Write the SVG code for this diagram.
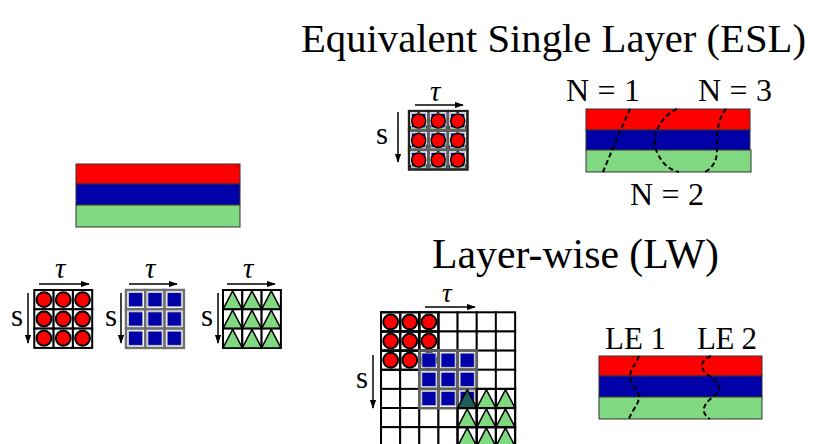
<svg xmlns="http://www.w3.org/2000/svg" xmlns:xlink="http://www.w3.org/1999/xlink" width="815" height="444" viewBox="0 0 815 444">
<style>
text{font-family:"Liberation Serif","DejaVu Serif",serif;fill:#000}
.title{font-size:42px}
.lab{font-size:32px}
.le{font-size:31px}
.sym{font-size:31px}
.tau{font-size:29px;font-style:italic}
.ax{stroke:#000;stroke-width:1.5;fill:none;marker-end:url(#ah)}
.lay{stroke:#333;stroke-width:1}
.dash{fill:none;stroke:#000;stroke-width:2;stroke-dasharray:5,3}
</style>
<defs>
<marker id="ah" viewBox="0 0 10 7" refX="9" refY="3.5" markerWidth="6" markerHeight="4.2" orient="auto"><path d="M0,0L10,3.5L0,7z" fill="#000"/></marker>
<g id="cE"><rect width="19.3" height="19.3" fill="#fff" stroke="#000" stroke-width="2"/></g>
<g id="cC"><rect width="19.3" height="19.3" fill="#fff" stroke="#000" stroke-width="2"/><circle cx="9.65" cy="9.65" r="7.4" fill="#f00" stroke="#000" stroke-width="2"/></g>
<g id="cCo"><rect width="19.3" height="19.3" fill="none" stroke="#000" stroke-width="2"/><circle cx="9.65" cy="9.65" r="7.4" fill="#f00" stroke="#000" stroke-width="2"/></g>
<g id="cS"><rect width="19.3" height="19.3" fill="#fff" stroke="#707070" stroke-width="2.5"/><rect x="2.5" y="2.5" width="14.3" height="14.3" fill="#0000a8" stroke="#c8c8c8" stroke-width="1"/></g>
<g id="cSo"><rect width="19.3" height="19.3" fill="none" stroke="#606060" stroke-width="2.5"/><rect x="2.5" y="2.5" width="14.3" height="14.3" fill="#0000a8" stroke="#c8c8c8" stroke-width="1"/></g>
<g id="cT"><rect width="19.3" height="19.3" fill="#fff" stroke="#000" stroke-width="2"/><path d="M9.65,0.8L19.3,19.3L0,19.3z" fill="#80d880" stroke="#000" stroke-width="1.5" stroke-linejoin="round"/></g>
<g id="cTo"><path d="M9.65,0.8L19.3,19.3L0,19.3z" fill="#80d880" stroke="#000" stroke-width="1.5" stroke-linejoin="round"/><rect width="19.3" height="19.3" fill="none" stroke="#000" stroke-width="2"/></g>
</defs>

<g id="laminate-left">
<rect class="lay" x="76" y="164" width="164" height="20" fill="#ff0000"/>
<rect class="lay" x="76" y="184" width="164" height="21" fill="#0000a8"/>
<rect class="lay" x="76" y="205" width="164" height="22" fill="#80d880"/>
</g>

<g id="grid-circles">
<use href="#cC" x="34.3" y="290"/><use href="#cC" x="53.6" y="290"/><use href="#cC" x="72.9" y="290"/>
<use href="#cC" x="34.3" y="309.3"/><use href="#cC" x="53.6" y="309.3"/><use href="#cC" x="72.9" y="309.3"/>
<use href="#cC" x="34.3" y="328.6"/><use href="#cC" x="53.6" y="328.6"/><use href="#cC" x="72.9" y="328.6"/>
<text class="tau" x="55" y="278">τ</text>
<text class="sym" x="11" y="326">s</text>
</g>

<g id="grid-squares">
<use href="#cS" x="126" y="290"/><use href="#cS" x="145.3" y="290"/><use href="#cS" x="164.6" y="290"/>
<use href="#cS" x="126" y="309.3"/><use href="#cS" x="145.3" y="309.3"/><use href="#cS" x="164.6" y="309.3"/>
<use href="#cS" x="126" y="328.6"/><use href="#cS" x="145.3" y="328.6"/><use href="#cS" x="164.6" y="328.6"/>
<text class="tau" x="145" y="278">τ</text>
<text class="sym" x="105" y="326">s</text>
</g>

<g id="grid-triangles">
<use href="#cT" x="223" y="290"/><use href="#cT" x="242.3" y="290"/><use href="#cT" x="261.6" y="290"/>
<use href="#cT" x="223" y="309.3"/><use href="#cT" x="242.3" y="309.3"/><use href="#cT" x="261.6" y="309.3"/>
<use href="#cT" x="223" y="328.6"/><use href="#cT" x="242.3" y="328.6"/><use href="#cT" x="261.6" y="328.6"/>
<text class="tau" x="243" y="278">τ</text>
<text class="sym" x="201" y="326">s</text>
</g>

<g id="esl-title"><text class="title" x="301" y="52" style="font-size:40.5px" textLength="505" lengthAdjust="spacingAndGlyphs">Equivalent Single Layer (ESL)</text></g>

<g id="esl-grid">
<use href="#cT" x="409" y="111"/><use href="#cT" x="428.5" y="111"/><use href="#cT" x="448" y="111"/>
<use href="#cT" x="409" y="130.5"/><use href="#cT" x="428.5" y="130.5"/><use href="#cT" x="448" y="130.5"/>
<use href="#cT" x="409" y="150"/><use href="#cT" x="428.5" y="150"/><use href="#cT" x="448" y="150"/>
<use href="#cSo" x="409" y="111"/><use href="#cSo" x="428.5" y="111"/><use href="#cSo" x="448" y="111"/>
<use href="#cSo" x="409" y="130.5"/><use href="#cSo" x="428.5" y="130.5"/><use href="#cSo" x="448" y="130.5"/>
<use href="#cSo" x="409" y="150"/><use href="#cSo" x="428.5" y="150"/><use href="#cSo" x="448" y="150"/>
<rect x="409" y="111" width="58.5" height="58.5" fill="none" stroke="#222" stroke-width="2"/>
<g stroke="#000" fill="#f00" stroke-width="1.5"><circle cx="418.7" cy="121" r="7"/><circle cx="438.2" cy="121" r="7"/><circle cx="457.7" cy="121" r="7"/>
<circle cx="418.7" cy="140.5" r="7"/><circle cx="438.2" cy="140.5" r="7"/><circle cx="457.7" cy="140.5" r="7"/>
<circle cx="418.7" cy="160" r="7"/><circle cx="438.2" cy="160" r="7"/><circle cx="457.7" cy="160" r="7"/></g>
<text class="tau" x="430" y="101">τ</text>
<text class="sym" x="376" y="144">s</text>
</g>

<g id="esl-laminate">
<rect class="lay" x="586" y="109" width="164" height="21" fill="#ff0000"/>
<rect class="lay" x="586" y="130" width="164" height="20" fill="#0000a8"/>
<rect class="lay" x="586" y="150" width="165" height="22" fill="#80d880"/>
<path class="dash" d="M630,109Q617,138 603,172"/>
<path class="dash" d="M677,109C658,118 650,140 657,152C662,164 670,170 679,172"/>
<path class="dash" d="M726,109C716,120 717,140 717,150C717,162 712,168 705,172"/>
<text class="lab" x="566" y="101" textLength="74" lengthAdjust="spacing">N = 1</text>
<text class="lab" x="698" y="101" textLength="74" lengthAdjust="spacing">N = 3</text>
<text class="lab" x="630" y="205" textLength="74" lengthAdjust="spacing">N = 2</text>
</g>

<g id="lw-title"><text class="title" x="432" y="268" textLength="287" lengthAdjust="spacingAndGlyphs">Layer-wise (LW)</text></g>

<g id="lw-grid">
<g id="lw-base">
<use href="#cE" x="381" y="312.3"/><use href="#cE" x="400.14" y="312.3"/><use href="#cE" x="419.28" y="312.3"/><use href="#cE" x="438.42" y="312.3"/><use href="#cE" x="457.56" y="312.3"/><use href="#cE" x="476.7" y="312.3"/><use href="#cE" x="495.84" y="312.3"/>
<use href="#cE" x="381" y="331.44"/><use href="#cE" x="400.14" y="331.44"/><use href="#cE" x="419.28" y="331.44"/><use href="#cE" x="438.42" y="331.44"/><use href="#cE" x="457.56" y="331.44"/><use href="#cE" x="476.7" y="331.44"/><use href="#cE" x="495.84" y="331.44"/>
<use href="#cE" x="381" y="350.58"/><use href="#cE" x="400.14" y="350.58"/><use href="#cE" x="419.28" y="350.58"/><use href="#cE" x="438.42" y="350.58"/><use href="#cE" x="457.56" y="350.58"/><use href="#cE" x="476.7" y="350.58"/><use href="#cE" x="495.84" y="350.58"/>
<use href="#cE" x="381" y="369.72"/><use href="#cE" x="400.14" y="369.72"/><use href="#cE" x="419.28" y="369.72"/><use href="#cE" x="438.42" y="369.72"/><use href="#cE" x="457.56" y="369.72"/><use href="#cE" x="476.7" y="369.72"/><use href="#cE" x="495.84" y="369.72"/>
<use href="#cE" x="381" y="388.86"/><use href="#cE" x="400.14" y="388.86"/><use href="#cE" x="419.28" y="388.86"/><use href="#cE" x="438.42" y="388.86"/><use href="#cE" x="457.56" y="388.86"/><use href="#cE" x="476.7" y="388.86"/><use href="#cE" x="495.84" y="388.86"/>
<use href="#cE" x="381" y="408"/><use href="#cE" x="400.14" y="408"/><use href="#cE" x="419.28" y="408"/><use href="#cE" x="438.42" y="408"/><use href="#cE" x="457.56" y="408"/><use href="#cE" x="476.7" y="408"/><use href="#cE" x="495.84" y="408"/>
<use href="#cE" x="381" y="427.14"/><use href="#cE" x="400.14" y="427.14"/><use href="#cE" x="419.28" y="427.14"/><use href="#cE" x="438.42" y="427.14"/><use href="#cE" x="457.56" y="427.14"/><use href="#cE" x="476.7" y="427.14"/><use href="#cE" x="495.84" y="427.14"/>
</g>
<use href="#cCo" x="381" y="312.3"/><use href="#cCo" x="400.14" y="312.3"/><use href="#cCo" x="419.28" y="312.3"/>
<use href="#cCo" x="381" y="331.44"/><use href="#cCo" x="400.14" y="331.44"/><use href="#cCo" x="419.28" y="331.44"/>
<use href="#cCo" x="381" y="350.58"/><use href="#cCo" x="400.14" y="350.58"/><use href="#cCo" x="419.28" y="350.58"/>
<use href="#cSo" x="419.28" y="350.58"/><use href="#cSo" x="438.42" y="350.58"/><use href="#cSo" x="457.56" y="350.58"/>
<use href="#cSo" x="419.28" y="369.72"/><use href="#cSo" x="438.42" y="369.72"/><use href="#cSo" x="457.56" y="369.72"/>
<use href="#cSo" x="419.28" y="388.86"/><use href="#cSo" x="438.42" y="388.86"/><use href="#cSo" x="457.56" y="388.86"/>
<path d="M467.21,389.7L476.86,408.16L457.56,408.16z" fill="#1d5e5a" stroke="#000" stroke-width="1.5" stroke-linejoin="round"/>
<use href="#cTo" x="476.7" y="388.86"/><use href="#cTo" x="495.84" y="388.86"/>
<use href="#cTo" x="457.56" y="408"/><use href="#cTo" x="476.7" y="408"/><use href="#cTo" x="495.84" y="408"/>
<use href="#cTo" x="457.56" y="427.14"/><use href="#cTo" x="476.7" y="427.14"/><use href="#cTo" x="495.84" y="427.14"/>
<text class="tau" x="442" y="302" style="font-size:27px">τ</text>
<text class="sym" x="356" y="388">s</text>
</g>

<g id="lw-laminate">
<rect class="lay" x="599" y="356" width="163" height="20" fill="#ff0000"/>
<rect class="lay" x="599" y="376" width="163" height="21" fill="#0000a8"/>
<rect class="lay" x="599" y="397" width="163" height="22" fill="#80d880"/>
<path class="dash" d="M639,356C636,364 630,370 630,377C630,384 639,390 639,397C639,404 631,412 629,419"/>
<path class="dash" d="M711,356C700,361 699,368 708,375C718,381 724,388 713,397C703,404 700,413 710,419"/>
<text class="le" x="605" y="349" textLength="61" lengthAdjust="spacing">LE 1</text>
<text class="le" x="697" y="349" textLength="60" lengthAdjust="spacing">LE 2</text>
</g>

<g id="connectors">
<path class="ax" d="M39,284H89"/><path class="ax" d="M28,293V343"/>
<path class="ax" d="M129,284H177"/><path class="ax" d="M121,293V343"/>
<path class="ax" d="M227,284H275"/><path class="ax" d="M218,293V343"/>
<path class="ax" d="M415,105H463"/><path class="ax" d="M398,112V162"/>
<path class="ax" d="M425,307H475"/><path class="ax" d="M373,355V408"/>
</g>
</svg>
